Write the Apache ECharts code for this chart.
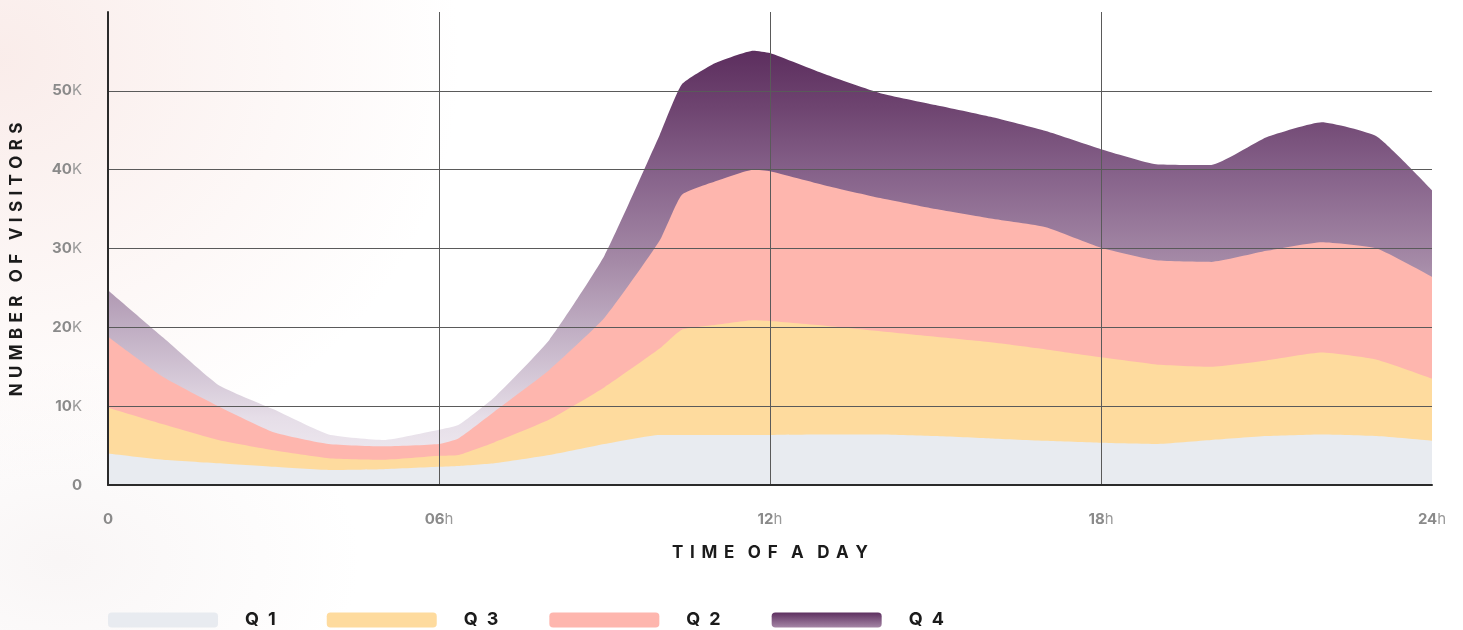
<!DOCTYPE html>
<html>
<head>
<meta charset="utf-8">
<script src="https://cdn.jsdelivr.net/npm/echarts@6/dist/echarts.min.js"></script>
<style>
  html, body { margin: 0; padding: 0; }
  body {
    width: 1463px; height: 630px;
    background:
      radial-gradient(ellipse 460px 420px at 0px 60px, rgba(246, 224, 220, 0.6), rgba(255,255,255,0) 100%),
      radial-gradient(ellipse 300px 200px at 60px 560px, rgba(240, 232, 232, 0.4), rgba(255,255,255,0) 100%),
      #ffffff;
  }
  #chart { width: 1463px; height: 630px; }
</style>
</head>
<body>
<div id="chart"></div>
<script>
// Hours of the day (x positions of the data points)
const hours = [0, 1, 2, 3, 4, 5, 6, 6.35, 7, 8, 9, 10, 10.4, 11, 11.7, 12, 13, 14, 15, 16, 17, 18, 19, 20, 21, 22, 23, 24];

// Visitors per quarter, in thousands (stacked bottom to top: Q1, Q3, Q2, Q4)
const q1 = [4.0, 3.2, 2.75, 2.3, 1.9, 2.0, 2.3, 2.4, 2.75, 3.8, 5.2, 6.35, 6.35, 6.35, 6.35, 6.35, 6.4, 6.4, 6.2, 5.9, 5.6, 5.35, 5.2, 5.7, 6.2, 6.4, 6.2, 5.6];
const q3 = [5.8, 4.5, 2.95, 2.1, 1.5, 1.2, 1.4, 1.4, 2.65, 4.5, 7.2, 10.95, 13.35, 13.95, 14.55, 14.45, 13.8, 13.1, 12.6, 12.2, 11.6, 10.85, 10.1, 9.3, 9.6, 10.4, 9.7, 7.9];
const q2 = [9.0, 6.0, 4.3, 2.3, 1.8, 1.7, 1.5, 2.1, 3.9, 6.3, 8.8, 13.7, 17.1, 18.2, 19.1, 19.0, 17.8, 16.9, 16.2, 15.7, 15.5, 13.9, 13.2, 13.3, 13.9, 14.0, 14.1, 12.9];
const q4 = [5.9, 5.0, 2.7, 2.9, 1.2, 0.8, 1.8, 1.7, 1.8, 3.8, 7.9, 13.4, 14.0, 15.0, 15.1, 15.0, 14.1, 13.3, 13.2, 12.9, 12.2, 12.5, 12.2, 12.3, 14.4, 15.2, 14.2, 11.0];

// Tick labels
const xTickLabels = { 0: '0', 6: '06', 12: '12', 18: '18', 24: '24' };
const yTickLabels = { 0: '0', 10: '10', 20: '20', 30: '30', 40: '40', 50: '50' };
const seriesNames = ['Q1', 'Q3', 'Q2', 'Q4'];
const yAxisTitleText = 'NUMBER OF VISITORS';
const xAxisTitleText = 'TIME OF A DAY';

const FONT = 'Inter, "Liberation Sans", sans-serif';

// spread letters apart (wide tracking)
const spread = (s, sep) => s.split(' ').map(w => w.split('').join(sep)).join('   \u200A');

// stack order bottom -> top
const stackOrder = [q1, q3, q2, q4];
// running totals so each band sits on the ones below it
const cumulative = [];
stackOrder.forEach((arr, s) => {
  cumulative.push(arr.map((v, i) => (s === 0 ? 0 : cumulative[s - 1][i]) + v));
});
const pair = arr => hours.map((h, i) => [h, +arr[i].toFixed(3)]);

const q4Area = new echarts.graphic.LinearGradient(0, 40, 0, 485, [
  { offset: 0, color: '#592a5b' },
  { offset: 0.15, color: '#6e4470' },
  { offset: 0.3, color: '#86628a' },
  { offset: 0.5, color: '#a58aa7' },
  { offset: 0.65, color: '#c0aec3' },
  { offset: 0.85, color: '#e6dee8' },
  { offset: 1, color: '#f3eff4' }
], true);

const q4Legend = new echarts.graphic.LinearGradient(0, 0, 0, 1, [
  { offset: 0, color: '#5e3060' },
  { offset: 1, color: '#a586a6' }
]);

const colors = ['#e8ebf0', '#fedb9e', '#feb6ae', q4Area];

function areaSeries(idx) {
  return {
    name: seriesNames[idx],
    type: 'line',
    data: pair(cumulative[idx]),
    smooth: 0.15,
    symbol: 'none',
    lineStyle: { width: 0 },
    areaStyle: { color: colors[idx], opacity: 1 },
    itemStyle: { color: colors[idx] },
    z: 6 - idx
  };
}

const chart = echarts.init(document.getElementById('chart'), null, { renderer: 'canvas' });

chart.setOption({
  backgroundColor: 'transparent',
  animation: false,
  grid: { left: 108, right: 31, top: 12, bottom: 145, containLabel: false },
  xAxis: {
    type: 'value',
    min: 0, max: 24, interval: 6,
    z: 10,
    name: spread(xAxisTitleText, ' \u2009'),
    nameLocation: 'middle',
    nameGap: 59,
    nameTextStyle: { fontFamily: FONT, fontWeight: 'bold', fontSize: 17, color: '#1b1b1b' },
    axisLine: { show: true, lineStyle: { color: '#2b2b2b', width: 2 } },
    axisTick: { show: false },
    splitLine: { show: true, showMinLine: false, showMaxLine: false, lineStyle: { color: '#5a5a5a', width: 1 } },
    axisLabel: {
      margin: 27,
      formatter: v => v === 0 ? '{b|' + xTickLabels[v] + '}' : '{b|' + xTickLabels[v] + '}{h|h}',
      rich: {
        b: { fontFamily: FONT, fontWeight: 'bold', fontSize: 15, color: '#8a8a8a' },
        h: { fontFamily: FONT, fontWeight: 'normal', fontSize: 15, color: '#9a9a9a' }
      }
    }
  },
  yAxis: {
    type: 'value',
    min: 0, max: 60, interval: 10,
    z: 10,
    name: spread(yAxisTitleText, ' \u200A'),
    nameLocation: 'middle',
    nameRotate: 90,
    nameGap: 83,
    nameTextStyle: { fontFamily: FONT, fontWeight: 'bold', fontSize: 17, color: '#1b1b1b', padding: [0, 22, 0, 0] },
    axisLine: { show: true, lineStyle: { color: '#2b2b2b', width: 2 } },
    axisTick: { show: false },
    splitLine: { show: true, showMinLine: false, showMaxLine: false, lineStyle: { color: '#5a5a5a', width: 1 } },
    axisLabel: {
      margin: 26,
      showMaxLabel: false,
      formatter: v => v === 0 ? '{b|0}' : (yTickLabels[v] !== undefined ? '{b|' + yTickLabels[v] + '}{k|K}' : ''),
      rich: {
        b: { fontFamily: FONT, fontWeight: 'bold', fontSize: 15, color: '#8a8a8a' },
        k: { fontFamily: FONT, fontWeight: 'normal', fontSize: 15, color: '#9a9a9a' }
      }
    }
  },
  legend: {
    left: 108,
    top: 611,
    padding: 0,
    itemWidth: 110,
    itemHeight: 15,
    itemGap: 51,
    icon: 'roundRect',
    data: [
      { name: 'Q1', itemStyle: { color: '#e8ebf0' } },
      { name: 'Q3', itemStyle: { color: '#fedb9e' } },
      { name: 'Q2', itemStyle: { color: '#feb6ae' } },
      { name: 'Q4', itemStyle: { color: q4Legend } }
    ],
    formatter: n => n[0] + '\u2002' + n.slice(1),
    textStyle: { fontFamily: FONT, fontWeight: 'bold', fontSize: 18, color: '#1b1b1b', padding: [0, 0, 0, 22] }
  },
  series: [0, 1, 2, 3].map(areaSeries)
});
</script>
</body>
</html>
